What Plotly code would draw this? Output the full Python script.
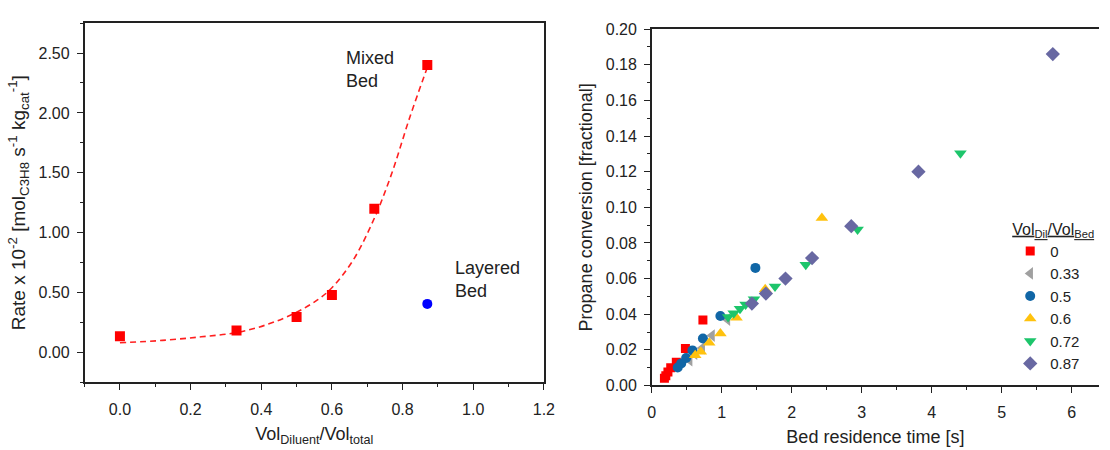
import plotly.graph_objects as go

# ---------------- data: left panel ----------------
mixed_x = [0.0, 0.33, 0.5, 0.6, 0.72, 0.87]
mixed_y = [0.134, 0.182, 0.295, 0.48, 1.20, 2.40]
layered_x = [0.87]
layered_y = [0.405]
fit_x = [0.0, 0.12, 0.23, 0.33, 0.42, 0.5, 0.56, 0.6, 0.66, 0.72, 0.77, 0.82, 0.87]
fit_y = [0.080, 0.10, 0.13, 0.165, 0.236, 0.335, 0.44, 0.54, 0.77, 1.12, 1.50, 1.96, 2.38]

# ---------------- data: right panel ----------------
series_names = ["0", "0.33", "0.5", "0.6", "0.72", "0.87"]
t_0 = [0.18, 0.20, 0.23, 0.27, 0.35, 0.48, 0.73]
c_0 = [0.004, 0.0055, 0.0075, 0.010, 0.013, 0.0207, 0.0367]
t_033 = [0.54, 0.61, 0.72, 0.86, 1.08]
c_033 = [0.0142, 0.0178, 0.021, 0.028, 0.037]
t_05 = [0.37, 0.42, 0.49, 0.58, 0.73, 0.98, 1.48]
c_05 = [0.0101, 0.0124, 0.0154, 0.0197, 0.0264, 0.039, 0.066]
t_06 = [0.62, 0.70, 0.82, 0.98, 1.21, 1.62, 2.43]
c_06 = [0.017, 0.019, 0.024, 0.0292, 0.038, 0.054, 0.094]
t_072 = [1.09, 1.17, 1.26, 1.34, 1.46, 1.76, 2.20, 2.94, 4.41]
c_072 = [0.0385, 0.0405, 0.043, 0.0455, 0.0484, 0.0556, 0.0678, 0.0876, 0.1304]
t_087 = [1.43, 1.63, 1.91, 2.29, 2.85, 3.81, 5.73]
c_087 = [0.046, 0.0516, 0.060, 0.0715, 0.0894, 0.120, 0.186]

FONT = "Liberation Sans, Arial, sans-serif"
AX = "#222222"

fig = go.Figure()

# left panel traces
fig.add_trace(go.Scatter(x=fit_x, y=fit_y, mode="lines", line=dict(color="#FF2020", width=1.6, dash="6px,4px"),
                         line_shape="spline", showlegend=False, xaxis="x", yaxis="y"))
fig.add_trace(go.Scatter(x=mixed_x, y=mixed_y, mode="markers",
                         marker=dict(symbol="square", size=10, color="#FF0000"),
                         showlegend=False, xaxis="x", yaxis="y"))
fig.add_trace(go.Scatter(x=layered_x, y=layered_y, mode="markers",
                         marker=dict(symbol="circle", size=10, color="#0000FF"),
                         showlegend=False, xaxis="x", yaxis="y"))

# right panel traces
right = [
    (t_0, c_0, "square", 9, "#FF0000"),
    (t_033, c_033, "triangle-left", 11, "#A0A0A0"),
    (t_05, c_05, "circle", 10, "#1066A6"),
    (t_06, c_06, "triangle-up", 11, "#FFC20E"),
    (t_072, c_072, "triangle-down", 11, "#1DC56B"),
    (t_087, c_087, "diamond", 11, "#6868A2"),
]
for name, (tx, cy, sym, sz, col) in zip(series_names, right):
    fig.add_trace(go.Scatter(x=tx, y=cy, mode="markers", name=name,
                             marker=dict(symbol=sym, size=sz, color=col),
                             xaxis="x2", yaxis="y2"))

W, H = 1110, 450
L1, R1, T1, B1 = 81.7, 547.3, 15.7, 389.0
L2, R2, T2, B2 = 656.7, 1110.0, 22.0, 392.3

common = dict(showline=True, linecolor=AX, linewidth=1.5, ticks="outside", tickcolor=AX,
              tickwidth=1.3, ticklen=6, showgrid=False, zeroline=False,
              tickfont=dict(family=FONT, size=16, color="#222"))

fig.update_layout(
    width=W, height=H, margin=dict(l=0, r=0, t=0, b=0),
    paper_bgcolor="white", plot_bgcolor="white",
    font=dict(family=FONT, color="#222"),
    xaxis=dict(domain=[L1 / W, R1 / W], range=[-0.1, 1.2], dtick=0.2, tick0=0, tickformat=".1f",
               mirror=True, anchor="y",
               minor=dict(dtick=0.1, ticks="outside", ticklen=3, tickcolor=AX, tickwidth=1.2),
               title=dict(text="Vol<sub>Diluent</sub>/Vol<sub>total</sub>", font=dict(family=FONT, size=18),
                          standoff=10),
               ticklabelstandoff=6, **common),
    yaxis=dict(domain=[1 - B1 / H, 1 - T1 / H], range=[-0.25, 2.75], dtick=0.5, tick0=0, tickformat=".2f",
               mirror=True, anchor="x",
               minor=dict(dtick=0.25, ticks="outside", ticklen=3, tickcolor=AX, tickwidth=1.2),
               title=dict(text="Rate x 10<sup>-2</sup> [mol<sub>C3H8</sub> s<sup>-1</sup> kg<sub>cat</sub><sup>-1</sup>]",
                          font=dict(family=FONT, size=19), standoff=8),
               ticklabelstandoff=4, **common),
    xaxis2=dict(domain=[L2 / W, R2 / W], range=[0, 6.39], dtick=1, tick0=0,
                mirror=True, anchor="y2",
                minor=dict(dtick=0.5, ticks="outside", ticklen=3, tickcolor=AX, tickwidth=1.2),
                title=dict(text="Bed residence time [s]", font=dict(family=FONT, size=18), standoff=10),
                ticklabelstandoff=6, **common),
    yaxis2=dict(domain=[1 - B2 / H, 1 - T2 / H], range=[0, 0.2], dtick=0.02, tick0=0, tickformat=".2f",
                mirror=False, anchor="x2",
                minor=dict(dtick=0.01, ticks="outside", ticklen=3, tickcolor=AX, tickwidth=1.2),
                title=dict(text="Propane conversion [fractional]", font=dict(family=FONT, size=18), standoff=8),
                ticklabelstandoff=4, **common),
    legend=dict(x=1020 / W, y=1 - 214 / H, xanchor="left", yanchor="top",
                bgcolor="rgba(0,0,0,0)", font=dict(family=FONT, size=15, color="#222"),
                title=dict(text="<u>Vol<sub>Dil</sub>/Vol<sub>Bed</sub></u>", font=dict(family=FONT, size=16)),
                tracegroupgap=0, itemwidth=30),
    annotations=[
        dict(x=0.633, y=2.36, xref="x", yref="y", text="Mixed<br>Bed", showarrow=False,
             xanchor="left", yanchor="middle", align="left", font=dict(family=FONT, size=18, color="#222")),
        dict(x=0.943, y=0.61, xref="x", yref="y", text="Layered<br>Bed", showarrow=False,
             xanchor="left", yanchor="middle", align="left", font=dict(family=FONT, size=18, color="#222")),
    ],
)

fig.write_html("out.html")
